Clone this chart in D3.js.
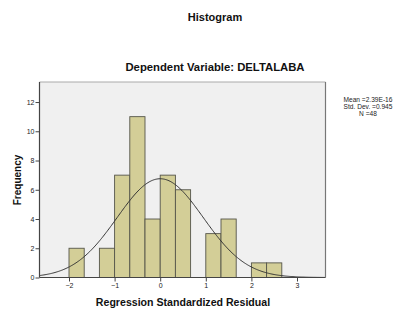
<!DOCTYPE html>
<html><head><meta charset="utf-8">
<script src="https://cdn.jsdelivr.net/npm/d3@7"></script>
<style>body{margin:0;background:#fff}svg{display:block;font-family:Arial,"Liberation Sans",sans-serif}</style>
</head><body><svg id="c" width="406" height="309"></svg>
<script>
const binStarts = [-2, -1.6667, -1.3333, -1, -0.6667, -0.3333, 0, 0.3333, 0.6667, 1, 1.3333, 1.6667, 2, 2.3333];
const binCounts = [2, 0, 2, 7, 11, 4, 7, 6, 0, 3, 4, 0, 1, 1];
const binWidth = 1/3;
const xTicks = [-2, -1, 0, 1, 2, 3];
const yTicks = [0, 2, 4, 6, 8, 10, 12];
const stats = {mean: 2.39e-16, sd: 0.945, n: 48};
const legendLines = ["Mean =2.39E-16", "Std. Dev. =0.945", "N =48"];

const svg = d3.select("#c");
const L = 39.5, R = 325.5, T = 82, B = 277.5;
const x = d3.scaleLinear().domain([-2.647, 3.625]).range([L, R]);
const y = d3.scaleLinear().domain([0, 13.37]).range([B, T]);

svg.append("rect").attr("x", L).attr("y", T).attr("width", R - L).attr("height", B - T)
  .attr("fill", "#f0f0f0");

const data = binStarts.map((s, i) => ({s, c: binCounts[i]})).filter(d => d.c > 0);
svg.selectAll("rect.bar").data(data).enter().append("rect").attr("class", "bar")
  .attr("x", d => x(d.s)).attr("width", d => x(d.s + binWidth) - x(d.s))
  .attr("y", d => y(d.c)).attr("height", d => y(0) - y(d.c))
  .attr("fill", "#d3ce97").attr("stroke", "#55554a").attr("stroke-width", 0.9);

// normal curve
const pts = d3.range(-2.647, 3.626, 0.02).map(v => [v,
  stats.n * binWidth * Math.exp(-0.5 * Math.pow((v - stats.mean) / stats.sd, 2)) / (stats.sd * Math.sqrt(2 * Math.PI))]);
svg.append("path").datum(pts)
  .attr("d", d3.line().x(d => x(d[0])).y(d => y(d[1])).curve(d3.curveBasis))
  .attr("fill", "none").attr("stroke", "#333").attr("stroke-width", 1);

// frame
svg.append("line").attr("x1", L).attr("x2", R).attr("y1", T).attr("y2", T).attr("stroke", "#aaa");
svg.append("line").attr("x1", R).attr("x2", R).attr("y1", T).attr("y2", B).attr("stroke", "#777").attr("stroke-width", 1.2);

// axes
const xa = svg.append("g").attr("transform", `translate(0,${B})`)
  .call(d3.axisBottom(x).tickValues(xTicks).tickFormat(d3.format("d")).tickSize(4).tickPadding(2).tickSizeOuter(0));
const ya = svg.append("g").attr("transform", `translate(${L},0)`)
  .call(d3.axisLeft(y).tickValues(yTicks).tickFormat(d3.format("d")).tickSize(4).tickPadding(1).tickSizeOuter(0));
[xa, ya].forEach(g => {
  g.select(".domain").attr("stroke", "#444").attr("stroke-width", 1.2);
  g.selectAll(".tick line").attr("stroke", "#444");
  g.selectAll(".tick text").attr("font-size", 7).attr("fill", "#222").attr("font-family", "Arial,'Liberation Sans',sans-serif");
});
xa.select(".domain").attr("d", `M${L},0H${R}`);
ya.select(".domain").attr("d", `M0,${T}V${B}`);

// titles
svg.append("text").attr("x", 215).attr("y", 21).attr("text-anchor", "middle")
  .attr("font-size", 11).attr("font-weight", "bold").attr("fill", "#111").text("Histogram");
svg.append("text").attr("x", 215).attr("y", 71).attr("text-anchor", "middle")
  .attr("font-size", 11.3).attr("font-weight", "bold").attr("fill", "#111").text("Dependent Variable: DELTALABA");
svg.append("text").attr("x", 183).attr("y", 306).attr("text-anchor", "middle")
  .attr("font-size", 10.6).attr("font-weight", "bold").attr("fill", "#111").text("Regression Standardized Residual");
svg.append("text").attr("transform", "translate(21,180) rotate(-90)").attr("text-anchor", "middle")
  .attr("font-size", 10).attr("font-weight", "bold").attr("fill", "#111").text("Frequency");

// legend
svg.append("g").selectAll("text").data(legendLines).enter().append("text")
  .attr("x", 368).attr("y", (d, i) => 102 + i * 7).attr("text-anchor", "middle")
  .attr("font-size", 6.6).attr("fill", "#222").text(d => d);
</script></body></html>
